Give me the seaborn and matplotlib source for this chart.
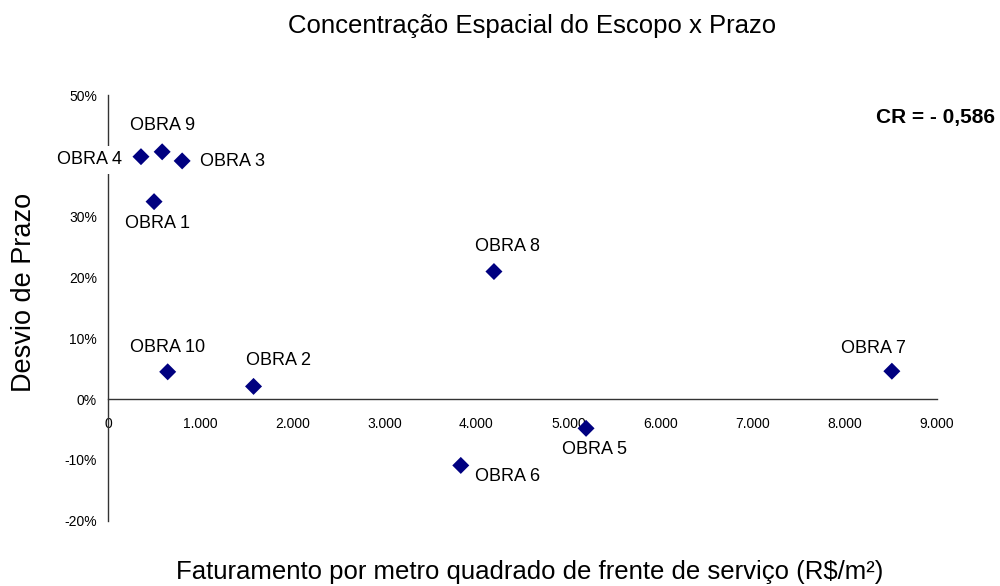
import matplotlib
matplotlib.use("Agg")
import matplotlib.pyplot as plt
import seaborn as sns
import pandas as pd

# Obras: faturamento por m² de frente de serviço vs. desvio de prazo (%)
obras = ["OBRA 1", "OBRA 2", "OBRA 3", "OBRA 4", "OBRA 5",
         "OBRA 6", "OBRA 7", "OBRA 8", "OBRA 9", "OBRA 10"]
faturamento = [500, 1580, 805, 358, 5190, 3830, 8510, 4190, 588, 648]
desvio_prazo = [32.5, 2.1, 39.2, 39.9, -4.8, -10.9, 4.6, 21.0, 40.7, 4.5]

x_ticks = [0, 1000, 2000, 3000, 4000, 5000, 6000, 7000, 8000, 9000]
x_tick_labels = ["0", "1.000", "2.000", "3.000", "4.000", "5.000",
                 "6.000", "7.000", "8.000", "9.000"]
y_ticks = [-20, -10, 0, 10, 20, 30, 40, 50]
# the 40% label sits behind the "OBRA 4" data label, so it is left blank
y_tick_labels = ["-20%", "-10%", "0%", "10%", "20%", "30%", "", "50%"]

# label offsets (pixels) and alignment for each point
label_offsets = {
    "OBRA 1": (3, -22, "center", "center"),
    "OBRA 2": (25, 26, "center", "center"),
    "OBRA 3": (18, -1, "left", "center"),
    "OBRA 4": (-19, -3, "right", "center"),
    "OBRA 5": (8, -21, "center", "center"),
    "OBRA 6": (47, -11, "center", "center"),
    "OBRA 7": (-18, 23, "center", "center"),
    "OBRA 8": (14, 25, "center", "center"),
    "OBRA 9": (0, 26, "center", "center"),
    "OBRA 10": (0, 24, "center", "center"),
}

df = pd.DataFrame({"obra": obras, "faturamento": faturamento,
                   "desvio": desvio_prazo})

sns.set_style("white")
plt.rcParams["font.family"] = ["Liberation Sans", "DejaVu Sans"]
plt.rcParams["text.color"] = "black"
plt.rcParams["axes.labelcolor"] = "black"
plt.rcParams["xtick.color"] = "black"
plt.rcParams["ytick.color"] = "black"

fig = plt.figure(figsize=(10, 5.86), dpi=100)
ax = fig.add_axes([0.108, 0.1114, 0.829, 0.726])

sns.scatterplot(data=df, x="faturamento", y="desvio", ax=ax,
                marker="D", s=75, color="#000080", edgecolor="none",
                legend=False, zorder=4, clip_on=False)

for _, row in df.iterrows():
    dx, dy, ha, va = label_offsets[row["obra"]]
    ax.annotate(row["obra"], (row["faturamento"], row["desvio"]),
                xytext=(dx, dy), textcoords="offset pixels",
                ha=ha, va=va, fontsize=13, color="black", zorder=3,
                bbox=dict(boxstyle="square,pad=0.3", fc="white",
                          ec="none"))

ax.set_xlim(0, 9000)
ax.set_ylim(-20, 50)
ax.set_xticks(x_ticks)
ax.set_xticklabels(x_tick_labels, fontsize=9.5)
ax.set_yticks(y_ticks)
ax.set_yticklabels(y_tick_labels, fontsize=9.5)

for side in ("top", "right"):
    ax.spines[side].set_visible(False)
ax.spines["bottom"].set_position(("data", 0))
ax.spines["left"].set_position(("data", 0))
for side in ("bottom", "left"):
    ax.spines[side].set_color("#333333")
    ax.spines[side].set_linewidth(1.0)

ax.tick_params(axis="both", direction="out", length=5, width=1.0,
               color="#333333", labelcolor="black", pad=4)
ax.tick_params(axis="x", pad=8)
ax.tick_params(axis="y", pad=3)
ax.grid(False)

ax.set_xlabel("Faturamento por metro quadrado de frente de serviço (R$/m²)",
              fontsize=18.5, color="black")
ax.xaxis.set_label_coords(0.509, -0.092)
ax.set_ylabel("Desvio de Prazo", fontsize=19.5, color="black")
ax.yaxis.set_label_coords(-0.086, 0.537)

fig.text(0.532, 0.955, "Concentração Espacial do Escopo x Prazo",
         ha="center", va="center", fontsize=18.5, color="black")
fig.text(0.995, 0.80, "CR = - 0,586", ha="right", va="center",
         fontsize=15, fontweight="bold", color="black")

fig.savefig("out.png", dpi=100, facecolor="white")
